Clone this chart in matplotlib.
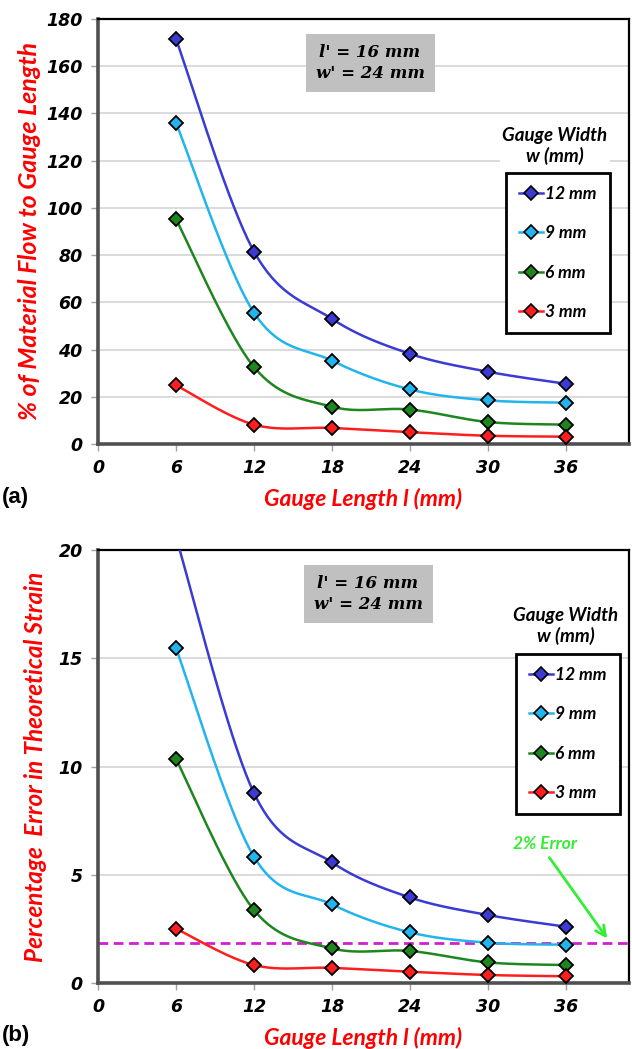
import numpy as np
import matplotlib
matplotlib.use("Agg")
import matplotlib.pyplot as plt
from matplotlib.lines import Line2D

# ---------------- data ----------------
gauge_length = [6, 12, 18, 24, 30, 36]
series_labels = ["12 mm", "9 mm", "6 mm", "3 mm"]

flow_12 = [171.5, 81.5, 53.0, 38.2, 30.6, 25.5]
flow_9 = [136.0, 55.6, 35.3, 23.1, 18.5, 17.5]
flow_6 = [95.2, 32.6, 15.8, 14.6, 9.3, 8.2]
flow_3 = [24.9, 8.2, 6.8, 5.0, 3.5, 3.1]

err_12 = [20.6, 8.77, 5.57, 3.95, 3.14, 2.6]
err_9 = [15.47, 5.83, 3.63, 2.34, 1.86, 1.77]
err_6 = [10.35, 3.37, 1.6, 1.48, 0.95, 0.83]
err_3 = [2.51, 0.83, 0.7, 0.52, 0.37, 0.31]

error_limit = 1.85

xticks = [0, 6, 12, 18, 24, 30, 36]
yticks_a = [0, 20, 40, 60, 80, 100, 120, 140, 160, 180]
yticks_b = [0, 5, 10, 15, 20]

line_colors = ["#3B3BD4", "#22B4EC", "#1E861E", "#FF1E1E"]

# ---------------- helpers ----------------
def smooth_curve(xs, ys, n=40):
    """Excel-like smoothed line (Catmull-Rom Bezier)."""
    xs = np.asarray(xs, float)
    ys = np.asarray(ys, float)
    P = np.column_stack([xs, ys])
    Pe = np.vstack([P[0], P, P[-1]])
    out = []
    t = np.linspace(0, 1, n)[:, None]
    for i in range(len(P) - 1):
        p0, p3 = P[i], P[i + 1]
        p1 = p0 + (Pe[i + 2] - Pe[i]) / 6.0
        p2 = p3 - (Pe[i + 3] - Pe[i + 1]) / 6.0
        seg = ((1 - t) ** 3) * p0 + 3 * ((1 - t) ** 2) * t * p1 + 3 * (1 - t) * t ** 2 * p2 + t ** 3 * p3
        out.append(seg if i == 0 else seg[1:])
    out = np.vstack(out)
    return out[:, 0], out[:, 1]


TICKFONT = dict(family="DejaVu Sans", weight="bold", style="italic", size=12.5)
LABELFONT_A = dict(family=["Lato", "DejaVu Sans"], weight="bold", style="italic", size=18)
LABELFONT_B = dict(family=["Lato", "DejaVu Sans"], weight="bold", style="italic", size=17.5)
XLABELFONT = dict(family=["Lato", "DejaVu Sans"], weight="bold", style="italic", size=16.5)

W, H = 632, 1049
fig = plt.figure(figsize=(W / 100, H / 100), dpi=100)

def axes_px(left, top, right, bottom):
    return fig.add_axes([left / W, 1 - bottom / H, (right - left) / W, (bottom - top) / H])

ax_a = axes_px(98, 19, 629, 444)
ax_b = axes_px(98, 550, 629, 983)


def style_axes(ax, yticks, ymax):
    ax.set_xlim(0, 40.85)
    ax.set_ylim(0, ymax)
    ax.set_xticks(xticks)
    ax.set_yticks(yticks)
    ax.set_xticklabels([str(v) for v in xticks], fontdict=TICKFONT)
    ax.set_yticklabels([str(v) for v in yticks], fontdict=TICKFONT)
    ax.grid(axis="y", color="#D4D4D4", linewidth=1.2, zorder=0)
    ax.set_axisbelow(True)
    for s in ["top", "right"]:
        ax.spines[s].set_color("black")
        ax.spines[s].set_linewidth(1.6)
    for s in ["left", "bottom"]:
        ax.spines[s].set_color("#505050")
        ax.spines[s].set_linewidth(2.6)
    ax.tick_params(axis="both", direction="out", length=5, width=1, color="#A0A0A0", pad=6)


def draw_series(ax, data):
    for ys, col, lab in zip(data, line_colors, series_labels):
        sx, sy = smooth_curve(gauge_length, ys)
        ax.plot(sx, sy, color=col, lw=1.8, zorder=3)
        ax.plot(gauge_length, ys, linestyle="none", marker="D", markersize=7.5,
                markerfacecolor=col, markeredgecolor="black", markeredgewidth=1.3, zorder=4)


def add_legend(ax, left_px, top_px):
    handles = [Line2D([], [], color=c, lw=1.8, marker="D", markersize=7,
                      markerfacecolor=c, markeredgecolor="black", markeredgewidth=1.2)
               for c in line_colors]
    leg = ax.legend(handles, series_labels, loc="upper left",
                    bbox_to_anchor=(left_px / W, 1 - top_px / H),
                    bbox_transform=fig.transFigure,
                    prop=dict(family=["Lato", "DejaVu Sans"], weight="bold", style="italic", size=12.5),
                    frameon=True, fancybox=False, edgecolor="black", framealpha=1,
                    handlelength=1.4, handletextpad=0.1, labelspacing=1.35,
                    borderpad=0.75, borderaxespad=0)
    leg.get_frame().set_linewidth(2)
    return leg


def add_info(ax, cx_px, cy_px):
    fig.text(cx_px / W, 1 - cy_px / H, "l' = 16 mm\nw' = 24 mm",
             ha="center", va="center", linespacing=1.35,
             family="DejaVu Serif", weight="bold", style="italic", size=12,
             bbox=dict(boxstyle="square,pad=0.6", facecolor="#C0C0C0", edgecolor="none"))


def add_leg_title(cx_px, cy_px):
    fig.text(cx_px / W, 1 - cy_px / H, "Gauge Width\nw (mm)", ha="center", va="center",
             family=["Lato", "DejaVu Sans"], weight="bold", style="italic", size=13.5,
             linespacing=1.2,
             bbox=dict(boxstyle="square,pad=0.15", facecolor="white", edgecolor="none"))


# ---------------- panel (a) ----------------
style_axes(ax_a, yticks_a, 180)
draw_series(ax_a, [flow_12, flow_9, flow_6, flow_3])
ax_a.set_ylabel("% of Material Flow to Gauge Length", color="red", fontdict=LABELFONT_A, labelpad=4)
ax_a.set_xlabel("Gauge Length l (mm)", color="red", fontdict=XLABELFONT, labelpad=8)
add_legend(ax_a, 506, 173)
add_leg_title(555, 146)
add_info(ax_a, 370, 63)
fig.text(2 / W, 1 - 497 / H, "(a)", ha="left", va="center", family="Liberation Sans",
         weight="bold", size=16)

# ---------------- panel (b) ----------------
style_axes(ax_b, yticks_b, 20)
draw_series(ax_b, [err_12, err_9, err_6, err_3])
ax_b.axhline(error_limit, color="#D21ED2", lw=2, dashes=(3.5, 2), zorder=2)
ax_b.set_ylabel("Percentage  Error in Theoretical Strain", color="red", fontdict=LABELFONT_B, labelpad=8)
ax_b.set_xlabel("Gauge Length l (mm)", color="red", fontdict=XLABELFONT, labelpad=8)
add_legend(ax_b, 516, 654)
add_leg_title(566, 626)
add_info(ax_b, 368, 594)
ax_b.annotate("", xy=(39.3, 1.95), xytext=(34.6, 5.9),
              arrowprops=dict(arrowstyle="->", color="#33EE33", lw=2, mutation_scale=18))
ax_b.text(34.4, 6.4, "2% Error", color="#33EE33", ha="center", va="center",
          family=["Lato", "DejaVu Sans"], weight="bold", style="italic", size=12.5)
fig.text(2 / W, 1 - 1036 / H, "(b)", ha="left", va="center", family="Liberation Sans",
         weight="bold", size=16)

fig.savefig("out.png", dpi=100)
